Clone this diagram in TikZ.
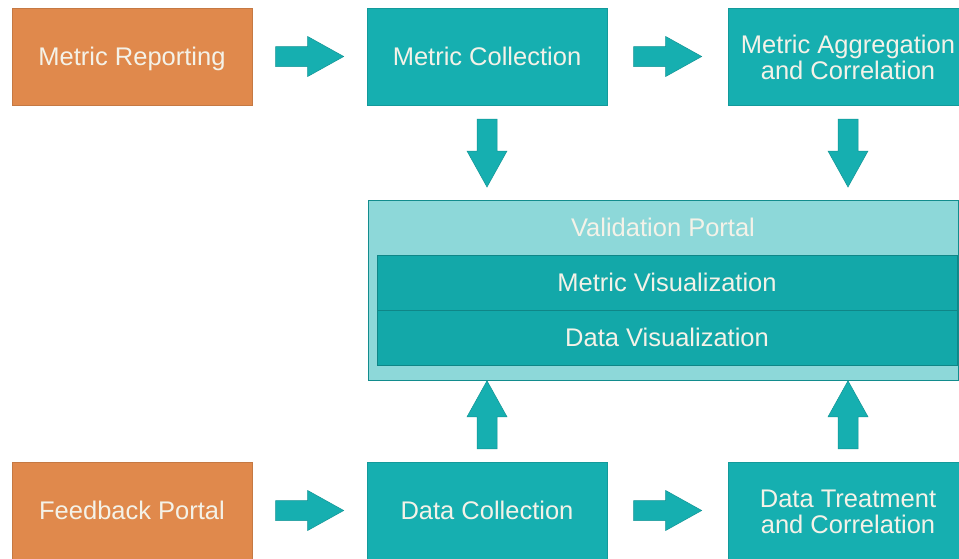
\documentclass[tikz,border=0pt]{standalone}
\usepackage{fontspec}
\setmainfont{Liberation Sans}
\definecolor{orng}{HTML}{E0894C}
\definecolor{teal1}{HTML}{16AFB0}
\definecolor{teal2}{HTML}{13A8A9}
\definecolor{lteal}{HTML}{8DD8D9}
\definecolor{txt}{HTML}{F4F2E8}
% block arrows, given by the position of their tip
\newcommand\arrowE[1]{\draw[barrow] (#1) ++(-68,-10) -- ++(32,0) -- ++(0,-10) -- ++(36,20) -- ++(-36,20) -- ++(0,-10) -- ++(-32,0) -- cycle;}
\newcommand\arrowS[1]{\draw[barrow] (#1) ++(-10,-68) -- ++(0,32) -- ++(-10,0) -- ++(20,36) -- ++(20,-36) -- ++(-10,0) -- ++(0,-32) -- cycle;}
\newcommand\arrowN[1]{\draw[barrow] (#1) ++(-10,68) -- ++(0,-32) -- ++(-10,0) -- ++(20,-36) -- ++(20,36) -- ++(-10,0) -- ++(0,32) -- cycle;}
\begin{document}
\begin{tikzpicture}[x=1pt,y=-1pt,
  label font/.style={font=\fontsize{25.5}{26}\selectfont, text height=18pt, text depth=0pt},
  box/.style={draw=#1!88!black, line width=0.6pt, fill=#1, text=txt,
    minimum width=240pt, minimum height=97pt, inner sep=0pt, align=center, label font},
  twolines/.style={text height=46pt, text depth=0pt},
  portal/.style={draw=teal1!80!black, line width=0.8pt, fill=lteal,
    minimum width=590pt, minimum height=180pt, inner sep=0pt, anchor=north west},
  panel/.style={draw=teal2!80!black, line width=0.6pt, fill=teal2, text=txt,
    minimum width=580pt, minimum height=55pt, inner sep=0pt, label font},
  barrow/.style={fill=teal1, draw=teal1!85!black, line width=0.5pt, line join=miter}]
\useasboundingbox (0,0) rectangle (959,558);
\clip (0,0) rectangle (959,558);
\fill[white] (0,0) rectangle (959,558);

% top row
\node[box=orng]  (mr) at (132,56.5) {Metric Reporting};
\node[box=teal1] (mc) at (487,56.5) {Metric Collection};
\node[box=teal1, twolines] (ma) at (848,56.5) {Metric Aggregation\\and Correlation};

% bottom row
\node[box=orng]  (fp) at (132,510.5) {Feedback Portal};
\node[box=teal1] (dc) at (487,510.5) {Data Collection};
\node[box=teal1, twolines] (dt) at (848,510.5) {Data Treatment\\and Correlation};

% validation portal with its two panels
\node[portal] (vp) at (368,200) {};
\node[text=txt, inner sep=0pt, label font] (vpl) at (663,227.5) {Validation Portal};
\node[panel] (mv) at (667,282.5) {Metric Visualization};
\node[panel] (dv) at (667,337.5) {Data Visualization};

% flow arrows
\arrowE{[xshift=-23pt]mc.west}
\arrowE{[xshift=-26pt]ma.west}
\arrowE{[xshift=-23pt]dc.west}
\arrowE{[xshift=-26pt]dt.west}
\arrowS{[yshift=13pt]vp.north -| mc}
\arrowS{[yshift=13pt]vp.north -| ma}
\arrowN{vp.south -| dc}
\arrowN{vp.south -| dt}
\end{tikzpicture}
\end{document}
